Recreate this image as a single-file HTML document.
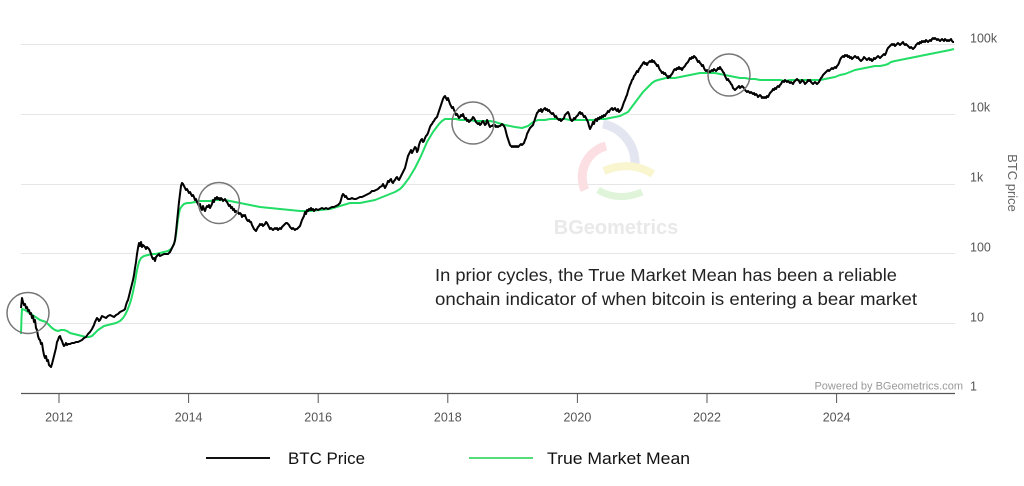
<!DOCTYPE html>
<html><head><meta charset="utf-8"><style>
html,body{margin:0;padding:0;background:#fff;}
svg{display:block;font-family:"Liberation Sans",sans-serif;}
</style></head><body>
<svg width="1024" height="486" viewBox="0 0 1024 486" xmlns="http://www.w3.org/2000/svg">
<rect width="1024" height="486" fill="#fff"/>
<!-- gridlines -->
<g stroke="#e6e6e6" stroke-width="1">
<line x1="21" y1="44.5" x2="955" y2="44.5"/>
<line x1="21" y1="114.5" x2="955" y2="114.5"/>
<line x1="21" y1="184.5" x2="955" y2="184.5"/>
<line x1="21" y1="253.5" x2="955" y2="253.5"/>
<line x1="21" y1="323.5" x2="955" y2="323.5"/>
</g>
<!-- watermark -->
<g fill="none" stroke-linecap="butt">
<path d="M 603 124 A 40 40 0 0 1 635 165" stroke="#e3e5f0" stroke-width="9"/>
<path d="M 606 146 A 32 32 0 0 0 585 190" stroke="#fbdfe2" stroke-width="9"/>
<path d="M 604 171 Q 630 160 653 174" stroke="#f8f5cf" stroke-width="8"/>
<path d="M 598 190 Q 618 202 642 192" stroke="#dff4d9" stroke-width="7"/>
</g>
<text x="616" y="234" font-size="20" font-weight="bold" fill="#e9e9e9" text-anchor="middle">BGeometrics</text>
<!-- axis -->
<line x1="21" y1="393.5" x2="955" y2="393.5" stroke="#555" stroke-width="1.2"/>
<g stroke="#555" stroke-width="1">
<line x1="59" y1="393" x2="59" y2="403"/>
<line x1="188.6" y1="393" x2="188.6" y2="403"/>
<line x1="318.2" y1="393" x2="318.2" y2="403"/>
<line x1="447.8" y1="393" x2="447.8" y2="403"/>
<line x1="577.4" y1="393" x2="577.4" y2="403"/>
<line x1="707" y1="393" x2="707" y2="403"/>
<line x1="836.6" y1="393" x2="836.6" y2="403"/>
</g>
<g font-size="12.5" fill="#555" text-anchor="middle">
<text x="59" y="421.5">2012</text>
<text x="188.6" y="421.5">2014</text>
<text x="318.2" y="421.5">2016</text>
<text x="447.8" y="421.5">2018</text>
<text x="577.4" y="421.5">2020</text>
<text x="707" y="421.5">2022</text>
<text x="836.6" y="421.5">2024</text>
</g>
<g font-size="12.5" fill="#555">
<text x="970" y="42.5">100k</text>
<text x="970" y="111.5">10k</text>
<text x="970" y="181.5">1k</text>
<text x="970" y="251.5">100</text>
<text x="970" y="321.5">10</text>
<text x="970" y="390.5">1</text>
</g>
<text transform="translate(1008,183) rotate(90)" font-size="13" fill="#666" text-anchor="middle">BTC price</text>
<text x="963" y="389.5" font-size="11" fill="#999" text-anchor="end">Powered by BGeometrics.com</text>
<!-- green: true market mean -->
<polyline fill="none" stroke="#22dd66" stroke-width="2" stroke-linejoin="round" points="21,334 21.5,318 22,309 25,310 28,312 31,314 34,316 37,318 40,320 43,321 46,322 48,324 50,326 52,328 55,330 58,331 61,330 64,330 67,331 70,333 74,334 78,335 82,336 86,337 89,337 92,336 95,333 98,330 101,328 104,326 108,325 112,324 116,323 120,321 123,318 125,315 127,311 129,306 131,300 133,292 135,282 137,270 139,262 141,258 144,256 148,255 152,254 156,254 160,253 164,252 168,251 171,249 173,246 175,241 176,235 177,227 178,219 179,213 180,209 182,206 184,204 187,203 190,203 195,202 200,201 205,201 210,201 215,200 220,200 225,200 230,201 235,202 240,203 245,204 250,205 255,206 260,207 270,208 280,209 290,210 300,211 310,211 320,210 330,209 340,206 350,203 355,203 360,203 365,202 370,201 375,200 380,198 385,196 390,194 395,192 400,189 403,186 406,182 409,178 412,173 415,168 418,162 421,156 424,149 427,142 430,137 433,132 436,128 439,124 442,121 445,119 448,119 452,119 456,119 460,120 465,120 470,120 475,121 480,121 485,121 490,121 495,122 505,125 515,127 522,128 528,126 533,122 538,120 545,120 550,119 555,119 560,119 565,119 570,120 575,120 580,120 585,120 590,120 595,120 600,119 605,119 610,118 615,117 620,116 624,114 628,112 631,108 634,104 637,100 640,96 643,92 646,89 649,86 652,83 655,81 658,80 662,79 666,78 670,78 675,78 680,77 685,76 690,75 695,74 700,73 705,73 710,73 715,73 720,74 725,75 730,76 735,77 740,78 745,78 750,79 755,79 760,80 765,80 770,80 775,80 780,80 785,81 790,80 795,80 800,80 805,80 810,80 815,80 820,80 825,79 830,78 835,77 840,75 845,74 850,72 855,70 860,69 865,68 870,67 875,66 880,66 885,65 888,64 891,62 895,61 900,60 905,59 910,58 915,57 920,56 925,55 930,54 935,53 940,52 945,51 950,50 954,49"/>
<!-- black: BTC price -->
<polyline fill="none" stroke="#000" stroke-width="2" stroke-linejoin="round" points="21,308 22,298 23,302 24,305 25,304 26,308 27,307 28,311 29,310 30,314 31,313 32,318 33,316 34,322 35,320 36,328 37,330 38,336 39,339 40,340 41,344 42,343 43,350 44,355 45,358 46,356 47,361 48,360 49,365 50,366 51,367 52,364 53,360 54,356 55,352 56,348 57,342 58,340 59,337 60,336 61,339 62,341 63,344 64,346 65,345 66,343 67,345 68,344 70,344 72,343 74,343 76,342 78,342 80,341 82,340 84,338 86,337 88,334 90,332 92,329 94,325 95,322 96,320 97,318 98,319 99,321 100,320 101,318 102,316 104,317 106,318 108,316 110,315 112,316 114,317 116,315 118,314 120,312 122,311 124,310 125,309 126,305 127,302 128,300 129,296 130,292 131,288 132,284 133,280 134,275 135,268 136,262 137,254 138,248 139,243 140,246 141,242 142,247 143,245 144,246 145,247 146,249 147,247 148,248 149,249 150,251 151,254 152,257 153,259 154,258 155,261 156,257 157,256 158,255 159,254 160,256 162,255 164,254 166,254 168,254 170,252 171,250 172,248 173,246 174,244 175,240 176,232 177,222 178,212 179,202 180,194 181,186 182,183 183,184 184,186 185,188 186,190 187,189 188,191 189,193 190,192 191,194 192,196 193,195 194,197 195,200 196,199 197,202 198,204 199,206 200,204 201,208 202,210 203,206 204,209 205,211 206,208 207,206 208,207 209,205 210,208 211,206 212,204 213,200 214,202 215,198 216,199 217,197 218,199 219,198 220,200 221,198 222,199 223,201 224,200 225,199 226,201 227,202 228,204 229,206 230,205 231,208 232,207 233,210 234,209 235,212 236,211 237,213 238,212 239,214 240,213 241,214 242,217 243,215 244,216 245,215 246,218 247,220 248,221 249,220 250,222 251,222 252,225 253,227 254,229 255,230 256,231 257,229 258,227 259,226 260,224 261,225 262,224 263,226 264,225 265,224 266,222 267,223 268,225 269,227 270,229 271,228 272,229 273,230 274,229 275,228 276,229 277,228 278,230 279,229 280,228 281,229 282,227 283,226 284,225 285,224 286,223 287,223 288,224 289,225 290,227 291,228 292,229 293,228 294,229 295,230 296,229 297,229 298,228 299,227 300,226 301,223 302,220 303,218 304,216 305,212 306,214 307,210 308,211 309,209 310,210 311,208 312,210 313,209 314,211 315,210 316,209 318,210 320,209 322,208 324,209 326,208 328,209 330,208 332,207 334,207 336,206 338,205 340,203 341,200 342,196 343,194 344,195 345,197 346,196 347,198 348,199 350,199 352,198 354,199 356,199 358,198 360,197 362,197 364,196 366,195 368,194 370,193 372,191 374,191 376,190 378,189 380,187 382,186 383,184 384,186 385,188 386,186 387,184 388,181 389,182 390,180 391,179 392,182 393,183 394,181 395,180 396,178 397,177 398,179 399,180 400,178 401,176 402,174 403,172 404,170 405,168 406,164 407,160 408,156 409,154 410,152 411,150 412,153 413,151 414,149 415,147 416,148 417,152 418,150 419,145 420,142 421,140 422,139 423,142 424,141 425,138 426,136 427,135 428,133 429,130 430,127 431,125 432,124 433,122 434,121 435,119 436,118 437,117 438,114 439,111 440,108 441,105 442,102 443,99 444,97 445,96 446,98 447,100 448,98 449,101 450,104 451,106 452,108 453,107 454,110 455,112 456,115 457,114 458,116 459,118 460,117 461,115 462,116 463,114 464,117 465,119 466,118 467,121 468,120 469,122 470,121 471,120 472,119 473,117 474,118 475,120 476,122 477,123 478,124 479,123 480,125 481,124 482,122 483,121 484,123 485,125 486,124 487,120 488,122 489,125 490,127 491,126 492,126 493,125 494,126 495,125 496,127 497,126 498,127 499,126 500,126 501,125 502,124 503,125 504,126 505,128 506,132 507,136 508,139 509,142 510,145 511,146 512,147 513,146 514,147 515,146 516,147 517,146 518,147 519,146 520,145 521,144 522,145 523,144 524,143 525,140 526,138 527,134 528,132 529,130 530,128 531,127 532,126 533,125 534,122 535,119 536,116 537,113 538,112 539,110 540,111 541,109 542,112 543,110 544,109 545,108 546,110 547,109 548,111 549,110 550,112 551,113 552,114 553,113 554,115 555,117 556,116 557,118 558,119 559,120 560,119 561,121 562,120 563,119 564,118 565,115 566,114 567,113 568,112 569,114 570,118 571,120 572,121 573,120 574,118 575,119 576,117 577,116 578,115 579,113 580,112 581,114 582,113 583,115 584,117 585,116 586,118 587,120 588,122 589,126 590,129 591,127 592,125 593,122 594,124 595,120 596,119 597,121 598,118 599,119 600,117 601,118 602,116 603,117 604,115 605,116 606,114 607,113 608,111 609,112 610,110 611,109 612,108 613,110 614,109 615,108 616,110 617,111 618,109 619,112 620,111 621,110 622,108 623,105 624,102 625,100 626,97 627,95 628,91 629,88 630,85 631,83 632,80 633,79 634,76 635,75 636,73 637,71 638,72 639,69 640,68 641,66 642,65 643,63 644,62 645,64 646,63 647,65 648,63 649,62 650,61 651,62 652,60 653,62 654,61 655,63 656,64 657,66 658,65 659,68 660,70 661,71 662,73 663,72 664,74 665,73 666,75 667,76 668,78 669,76 670,77 671,75 672,74 673,72 674,70 675,69 676,70 677,68 678,69 679,67 680,69 681,68 682,70 683,68 684,67 685,66 686,64 687,63 688,62 689,60 690,58 691,59 692,57 693,58 694,56 695,57 696,58 697,60 698,62 699,61 700,63 701,64 702,66 703,65 704,68 705,70 706,71 707,70 708,72 709,71 710,72 711,71 712,70 713,71 714,69 715,70 716,71 717,70 718,68 719,69 720,67 721,69 722,70 723,72 724,73 725,76 726,78 727,80 728,79 729,81 730,82 731,84 732,85 733,88 734,89 735,90 736,89 737,88 738,87 739,86 740,88 741,87 742,86 743,87 744,88 745,90 746,91 747,92 748,91 749,92 750,93 751,92 752,93 753,94 754,93 755,95 756,94 757,95 758,97 759,96 760,95 761,96 762,98 763,97 764,98 765,97 766,98 767,96 768,97 769,95 770,93 771,92 772,91 773,89 774,90 775,88 776,89 777,87 778,86 779,87 780,85 781,84 782,82 783,81 784,82 785,80 786,81 787,82 788,81 789,82 790,83 791,82 792,83 793,84 794,82 795,81 796,80 797,79 798,80 799,81 800,83 801,82 802,80 803,81 804,82 805,84 806,83 807,82 808,80 809,81 810,80 811,82 812,83 813,84 814,83 815,82 816,83 817,84 818,83 819,82 820,80 821,78 822,77 823,75 824,74 825,73 826,72 827,71 828,70 829,71 830,70 831,69 832,68 833,69 834,68 835,67 836,68 837,66 838,65 839,63 840,60 841,58 842,57 843,56 844,57 845,55 846,56 847,55 848,57 849,56 850,58 851,57 852,59 853,58 854,57 855,56 856,57 857,58 858,57 859,59 860,60 861,61 862,60 863,59 864,57 865,58 866,59 867,60 868,59 869,58 870,60 871,59 872,61 873,60 874,58 875,59 876,58 877,57 878,56 879,57 880,58 881,57 882,56 883,55 884,54 885,55 886,53 887,50 888,48 889,47 890,46 891,45 892,44 893,45 894,44 895,46 896,45 897,44 898,43 899,44 900,45 901,44 902,43 903,42 904,44 905,45 906,44 907,45 908,46 909,47 910,48 911,47 912,48 913,49 914,48 915,47 916,45 917,44 918,43 919,44 920,42 921,43 922,41 923,42 924,41 925,42 926,40 927,41 928,42 929,41 930,40 931,41 932,39 933,38 934,39 935,38 936,39 937,40 938,39 939,40 940,41 941,40 942,39 943,40 944,41 945,39 946,40 947,41 948,40 949,41 950,40 951,39 952,41 953,42 954,42"/>
<!-- circles -->
<g fill="none" stroke="#777" stroke-width="1.5">
<ellipse cx="28" cy="313" rx="21" ry="20.5"/>
<circle cx="219" cy="203" r="20.5"/>
<circle cx="473" cy="123" r="21"/>
<circle cx="729" cy="75" r="21"/>
</g>
<!-- annotation -->
<g font-size="17.5" fill="#222">
<text x="435" y="281" textLength="462" lengthAdjust="spacingAndGlyphs">In prior cycles, the True Market Mean has been a reliable</text>
<text x="435" y="305" textLength="482" lengthAdjust="spacingAndGlyphs">onchain indicator of when bitcoin is entering a bear market</text>
</g>
<!-- legend -->
<line x1="206" y1="458" x2="270" y2="458" stroke="#111" stroke-width="2"/>
<text x="288" y="464" font-size="17" fill="#111" textLength="77" lengthAdjust="spacingAndGlyphs">BTC Price</text>
<line x1="469" y1="458" x2="533" y2="458" stroke="#55dd77" stroke-width="2"/>
<text x="547" y="464" font-size="17" fill="#111" textLength="143" lengthAdjust="spacingAndGlyphs">True Market Mean</text>
</svg>
</body></html>
